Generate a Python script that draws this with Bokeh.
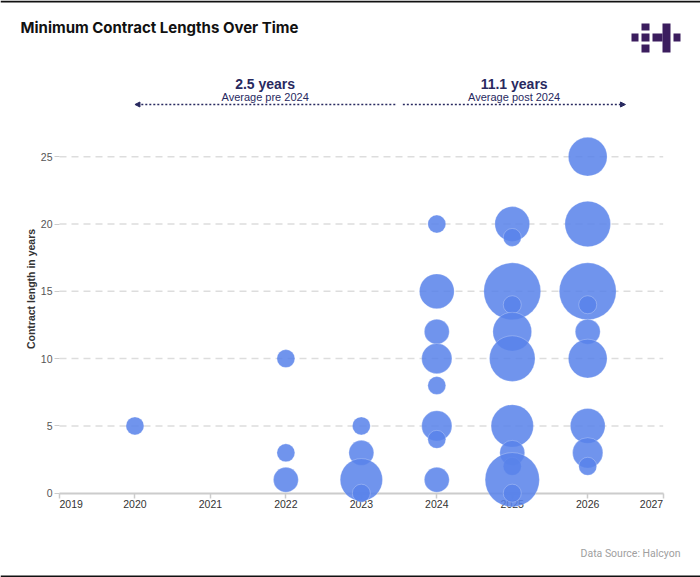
import math

from bokeh.core.properties import value
from bokeh.embed import file_html
from bokeh.models import Arrow, FixedTicker, Label, NormalHead, Range1d
from bokeh.plotting import figure
from bokeh.resources import INLINE

# ---- data -------------------------------------------------------------
# one bubble per (start year, minimum contract length); size = number of contracts
years = [2020,
         2022, 2022, 2022,
         2023, 2023, 2023, 2023,
         2024, 2024, 2024, 2024, 2024, 2024, 2024, 2024,
         2025, 2025, 2025, 2025, 2025, 2025, 2025, 2025, 2025, 2025, 2025,
         2026, 2026, 2026, 2026, 2026, 2026, 2026, 2026, 2026]
lengths = [5,
           10, 3, 1,
           5, 3, 1, 0,
           20, 15, 12, 10, 8, 5, 4, 1,
           20, 19, 15, 14, 12, 10, 5, 3, 2, 1, 0,
           25, 20, 15, 14, 12, 10, 5, 3, 2]
contracts = [1,
             1, 1, 2,
             1, 2, 6, 1,
             1, 4, 2, 3, 1, 3, 1, 2,
             4, 1, 11, 1, 5, 7, 6, 2, 1, 10, 1,
             5, 7, 11, 1, 2, 5, 4, 3, 1]

x_ticks = [2019, 2020, 2021, 2022, 2023, 2024, 2025, 2026, 2027]
y_ticks = [0, 5, 10, 15, 20, 25]
split_year = 2024
pre_span = (2020, 2023.45)
post_span = (2023.55, 2026.5)

# weighted averages before / from the split year
def weighted_avg(keep):
    n = sum(c for yr, c in zip(years, contracts) if keep(yr))
    s = sum(l * c for yr, l, c in zip(years, lengths, contracts) if keep(yr))
    return s / n

pre_avg = weighted_avg(lambda yr: yr < split_year)
post_avg = weighted_avg(lambda yr: yr >= split_year)

# ---- geometry -----------------------------------------------------------
W, H = 700, 577
X0_PX, PX_PER_YEAR = 59.0, 75.46      # canvas x of the first year tick
Y0_PX, PX_PER_UNIT = 492.7, 13.46     # canvas y of the zero line

x_start = x_ticks[0] - X0_PX / PX_PER_YEAR
x_end = x_ticks[0] + (W - X0_PX) / PX_PER_YEAR
y_end = Y0_PX / PX_PER_UNIT
y_start = -(H - Y0_PX) / PX_PER_UNIT


def px_x(px):
    return x_start + px / PX_PER_YEAR


def px_y(py):
    return y_end - py / PX_PER_UNIT


NAVY = "#28295f"
BUBBLE = "#5882ea"
AXIS_GREY = "#cccccc"
TICK_FONT = "Liberation Sans"

p = figure(width=W, height=H, output_backend="svg", toolbar_location=None,
           x_range=Range1d(x_start, x_end), y_range=Range1d(y_start, y_end),
           min_border=0)
p.border_fill_color = "white"
p.background_fill_color = "white"
p.outline_line_color = None
p.xgrid.visible = False
p.ygrid.visible = False

# page rules at the top and bottom edge
p.quad(left=[x_start, x_start], right=[x_end, x_end],
       top=[px_y(0), px_y(575)], bottom=[px_y(2), px_y(577)],
       fill_color="#111111", line_color=None)

# x axis sits on the zero line
xa = p.xaxis[0]
xa.fixed_location = 0
xa.ticker = FixedTicker(ticks=x_ticks)
xa.bounds = (x_ticks[0], x_ticks[-1])
xa.axis_line_color = AXIS_GREY
xa.axis_line_width = 2
xa.major_tick_line_color = AXIS_GREY
xa.major_tick_line_width = 1.5
xa.major_tick_in = 0
xa.major_tick_out = 5
xa.minor_tick_line_color = None
xa.major_label_standoff = 2
xa.major_label_text_font = TICK_FONT
xa.major_label_text_font_size = "10.5px"
xa.major_label_text_color = "#333333"
xa.major_label_overrides = {x_ticks[0]: "", x_ticks[-1]: ""}

# end labels hug their ticks
for tick, align in [(x_ticks[0], "left"), (x_ticks[-1], "right")]:
    p.text(x=[tick], y=[0], text=[str(tick)], text_align=align,
           text_baseline="top", y_offset=7, text_font=value(TICK_FONT),
           text_font_size="10.5px", text_color="#333333")

# y axis on the first year, without a line
ya = p.yaxis[0]
ya.fixed_location = x_ticks[0]
ya.ticker = FixedTicker(ticks=y_ticks)
ya.axis_line_color = None
ya.major_tick_line_color = AXIS_GREY
ya.major_tick_in = 0
ya.major_tick_out = 5
ya.minor_tick_line_color = None
ya.major_label_standoff = 2
ya.major_label_text_font = TICK_FONT
ya.major_label_text_font_size = "10.5px"
ya.major_label_text_color = "#555555"
ya.axis_label = "Contract length in years"
ya.axis_label_text_font = TICK_FONT
ya.axis_label_text_font_size = "10.5px"
ya.axis_label_text_font_style = "bold"
ya.axis_label_text_color = "#333333"
ya.axis_label_standoff = 1

# dashed guide lines across the year span
grid_y = y_ticks[1:]
p.segment(x0=[x_ticks[0]] * len(grid_y), x1=[x_ticks[-1]] * len(grid_y),
          y0=grid_y, y1=grid_y, line_color="#dddddd", line_width=1.5,
          line_dash="7 5")

# bubbles
sizes = [1.2 + 16.8 * math.sqrt(c) for c in contracts]
p.scatter(x=years, y=lengths, size=sizes, marker="circle",
          fill_color=BUBBLE, fill_alpha=0.86,
          line_color="white", line_alpha=0.25, line_width=1,
          level="annotation")

# average annotations
arrow_y = px_y(104)
p.add_layout(Arrow(x_start=pre_span[1], y_start=arrow_y,
                   x_end=pre_span[0], y_end=arrow_y,
                   line_color=NAVY, line_width=1.5, line_dash="2 2",
                   end=NormalHead(size=5, fill_color=NAVY, line_color=NAVY)))
p.add_layout(Arrow(x_start=post_span[0], y_start=arrow_y,
                   x_end=post_span[1], y_end=arrow_y,
                   line_color=NAVY, line_width=1.5, line_dash="2 2",
                   end=NormalHead(size=5, fill_color=NAVY, line_color=NAVY)))

for span, avg, caption in [(pre_span, pre_avg, f"Average pre {split_year}"),
                           (post_span, post_avg, f"Average post {split_year}")]:
    cx = (span[0] + span[1]) / 2
    p.add_layout(Label(x=cx, y=px_y(83), text=f"{avg:.1f} years",
                       text_align="center", text_baseline="middle",
                       text_font="Liberation Sans", text_font_size="14px",
                       text_font_style="bold", text_color=NAVY))
    p.add_layout(Label(x=cx, y=px_y(96), text=caption,
                       text_align="center", text_baseline="middle",
                       text_font="Liberation Sans", text_font_size="11px",
                       text_color=NAVY))

# title and source
p.add_layout(Label(x=px_x(20), y=px_y(27), text="Minimum Contract Lengths Over Time",
                   text_align="left", text_baseline="middle",
                   text_font="Inter", text_font_size="15px",
                   text_font_style="bold", text_color="#111111"))
p.add_layout(Label(x=px_x(680), y=px_y(552.5), text="Data Source: Halcyon",
                   text_align="right", text_baseline="middle",
                   text_font="Roboto", text_font_size="10.5px",
                   text_color="#a0a0a0"))

# logo mark
logo_boxes = [(631, 638, 33, 41), (641, 649, 23, 30), (641, 649, 33, 41),
              (641, 649, 44, 52), (652, 662, 33, 41), (662, 670, 23, 52),
              (673, 680, 33, 41)]
p.quad(left=[px_x(b[0]) for b in logo_boxes], right=[px_x(b[1]) for b in logo_boxes],
       top=[px_y(b[2]) for b in logo_boxes], bottom=[px_y(b[3]) for b in logo_boxes],
       fill_color="#3b1d5e", line_color=None)

open("out.html", "w").write(file_html(p, INLINE))
